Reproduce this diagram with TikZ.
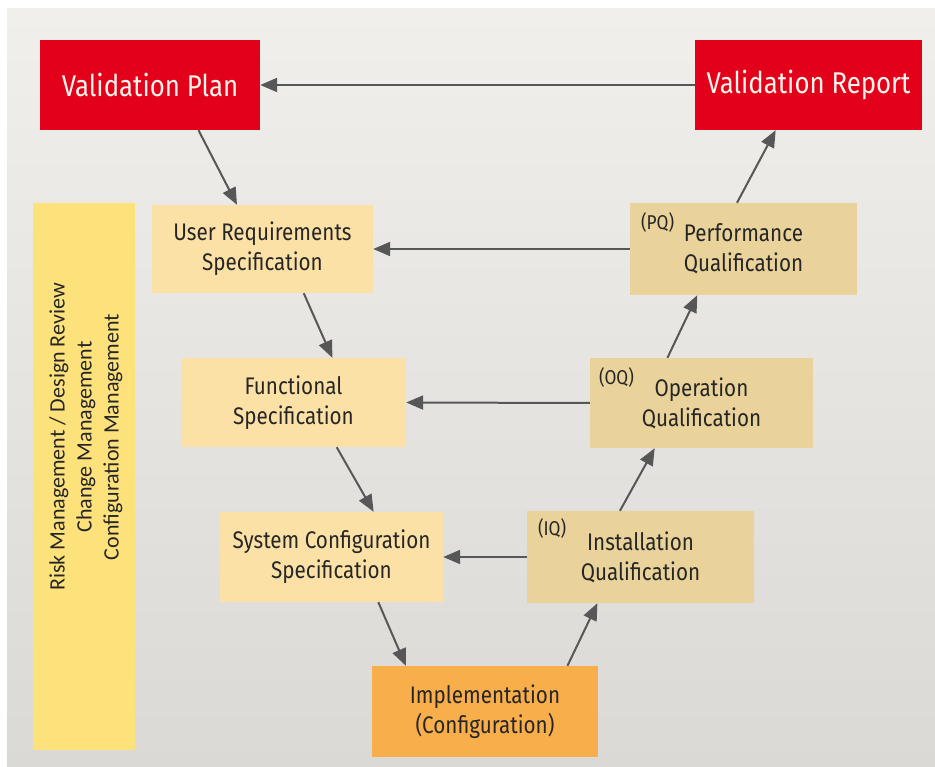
\documentclass[tikz,border=0pt]{standalone}
\usepackage{fontspec}
\setmainfont{Fira Sans}[FakeStretch=0.86]
\newfontfamily\barfont{Carlito}
\usetikzlibrary{arrows.meta,positioning}
\definecolor{vred}{HTML}{E2001A}
\definecolor{specfill}{HTML}{FCE1A6}
\definecolor{qualfill}{HTML}{E9D39A}
\definecolor{implfill}{HTML}{F9AE4C}
\definecolor{barfill}{HTML}{FDE27C}
\definecolor{textdark}{HTML}{262626}
\definecolor{arrowgray}{HTML}{575757}
\definecolor{bgtop}{HTML}{F1EFEB}
\definecolor{bgbottom}{HTML}{DAD9D6}

\begin{document}
\begin{tikzpicture}[x=1pt, y=-1pt,
  box/.style={rectangle, inner sep=0pt, align=center, text=textdark,
    font=\fontsize{24}{30}\selectfont},
  redbox/.style={box, fill=vred, text=white!92!orange,
    minimum height=90pt, font=\fontsize{30}{34}\selectfont},
  spec/.style={box, fill=specfill, minimum width=223pt, minimum height=89pt},
  qual/.style={box, fill=qualfill, minimum width=225pt, minimum height=90pt},
  tag/.style={anchor=west, inner sep=0pt, text=textdark, font=\fontsize{20}{22}\selectfont},
  flow/.style={draw=arrowgray, line width=2pt, -{Triangle[length=17pt, width=14pt]}}]

  \useasboundingbox (0,0) rectangle (935,767);
  \shade[top color=bgtop, bottom color=bgbottom] (7,9) rectangle (935,767);

  % plan and report
  \node[redbox, minimum width=220pt] (plan) at (150,85) {Validation Plan};
  \node[redbox, minimum width=227pt] (report) at (808.5,85) {Validation Report};

  % side bar
  \node[box, fill=barfill, minimum width=102pt, minimum height=547pt] (bar) at (84,476.5) {};
  \node[rotate=90, align=center, text=textdark, font=\barfont\fontsize{22}{27}\selectfont]
    (barlabel) at (86,437) {Risk Management / Design Review\\Change Management\\Configuration Management};

  % specification side
  \node[spec, minimum width=221pt, minimum height=88pt] (urs) at (262.5,249) {User Requirements\\Specification};
  \node[spec, minimum width=225pt] (fs) at (293.5,402.5) {Functional\\Specification};
  \node[spec, minimum height=90pt] (scs) at (331.5,557) {System Configuration\\Specification};
  \node[box, fill=implfill, minimum width=226pt, minimum height=91pt] (impl) at (485,711.5) {Implementation\\(Configuration)};

  % qualification side
  \node[qual, minimum width=227pt, minimum height=92pt] (iq) at (640.5,557) {Installation\\Qualification};
  \node[qual, minimum width=223pt] (oq) at (701.5,403) {Operation\\Qualification};
  \node[qual, minimum width=227pt, minimum height=92pt] (pq) at (743.5,249) {Performance\\Qualification};
  \node[tag] (iqtag) at ([shift={(11,18)}]iq.north west) {(IQ)};
  \node[tag] (oqtag) at ([shift={(9,20)}]oq.north west) {(OQ)};
  \node[tag] (pqtag) at ([shift={(11,20)}]pq.north west) {(PQ)};

  % down the V
  \draw[flow] (plan.-43) -- (urs.120);
  \draw[flow] (urs.-47) -- (fs.49);
  \draw[flow] (fs.-46) -- (scs.47);
  \draw[flow] (scs.-44) -- (impl.150);
  % and up again
  \draw[flow] (impl.29) -- (iq.-133);
  \draw[flow] (iq.114) -- (oq.-136);
  \draw[flow] (oq.127) -- (pq.-135);
  \draw[flow] (pq.98) -- (report.-126);

  % across
  \draw[flow] (report.west) -- (plan.east);
  \draw[flow] (pq.west) -- (urs.east);
  \draw[flow] (oq.west) -- (fs.east);
  \draw[flow] (iq.west) -- (scs.east);
\end{tikzpicture}
\end{document}
